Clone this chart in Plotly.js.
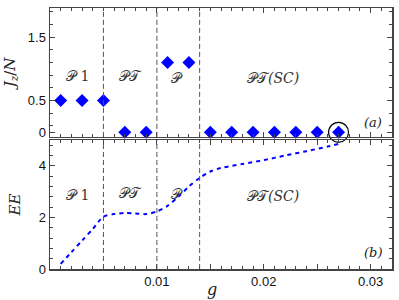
<!DOCTYPE html>
<html><head><meta charset="utf-8">
<script src="https://cdn.plot.ly/plotly-3.0.1.min.js"></script>
<style>html,body{margin:0;padding:0;background:#fff}#c{width:399px;height:300px}</style>
</head><body><div id="c"></div>
<script>
// Panel (a): J_z/N vs g
const gA = [0.001,0.003,0.005,0.007,0.009,0.011,0.013,0.015,0.017,0.019,0.021,0.023,0.025,0.027];
const jzN = [0.5,0.5,0.5,0,0,1.1,1.1,0,0,0,0,0,0,0];
// Panel (b): EE vs g
const gB = [0.001,0.002,0.003,0.004,0.005,0.006,0.007,0.008,0.009,0.010,0.011,0.012,0.013,0.014,0.015,0.016,0.018,0.020,0.022,0.024,0.026,0.027];
const ee = [0.2,0.65,1.1,1.55,2.03,2.13,2.17,2.15,2.13,2.23,2.45,2.8,3.2,3.53,3.78,3.92,4.07,4.22,4.4,4.57,4.75,4.85];
// phase boundaries
const bounds = [0.005,0.010,0.014];
// region labels
const phaseNames = ["𝒫 1","𝒫𝒯","𝒫","𝒫𝒯<i>(SC)</i>"];
const phaseX = [0.0026,0.0075,0.0119,0.0209];
const xTickVals = [0.005,0.01,0.015,0.02,0.025,0.03];
const xTickText = ["","0.01","","0.02","","0.03"];

const axisLine = '#444';
const tickFont = {family:'Liberation Sans, Arial, sans-serif', size:13, color:'#111'};
const serif = 'DejaVu Serif, Liberation Serif, serif';

const traces = [
  {x:gA, y:jzN, xaxis:'x', yaxis:'y', type:'scatter', mode:'markers', cliponaxis:false,
   marker:{symbol:'diamond', size:10, color:'#0000ff', line:{width:0}}},
  {x:[gA[gA.length-1]], y:[jzN[jzN.length-1]], xaxis:'x', yaxis:'y', type:'scatter', mode:'markers', cliponaxis:false,
   marker:{symbol:'circle-open', size:20, color:'#000', line:{width:1.2, color:'#000'}}},
  {x:gB, y:ee, xaxis:'x2', yaxis:'y2', type:'scatter', mode:'lines', cliponaxis:false,
   line:{color:'#0000ff', width:2, dash:'4px,4px', shape:'spline', smoothing:0.8}}
];

const common = {showline:true, linecolor:axisLine, linewidth:1.5, mirror:'ticks', ticks:'inside',
  tickcolor:axisLine, ticklen:5, tickwidth:1, showgrid:false, zeroline:false, tickfont:tickFont};

const xBase = Object.assign({}, common, {range:[0,0.032], tickvals:xTickVals, ticktext:xTickText,
  minor:{dtick:0.001, tick0:0, ticks:'inside', ticklen:3, tickcolor:axisLine, showgrid:false}});

const shapes = [];
bounds.forEach(b=>{
  ['y','y2'].forEach((ya,i)=>{
    shapes.push({type:'line', xref: i===0?'x':'x2', yref: ya+' domain', x0:b, x1:b, y0:0, y1:1,
      line:{color:'#555', width:1, dash:'5px,3px'}});
  });
});

const annotations = [];
const jzLab = [0.89,0.89,0.86,0.86];
const eeLab = [2.88,2.95,2.9,2.84];
phaseNames.forEach((t,i)=>{
  annotations.push({x:phaseX[i], y:jzLab[i], xref:'x', yref:'y', text:t, showarrow:false,
    font:{family:serif, size:14, color:'#333'}});
  annotations.push({x:phaseX[i], y:eeLab[i], xref:'x2', yref:'y2', text:t, showarrow:false,
    font:{family:serif, size:14, color:'#333'}});
});
annotations.push({x:0.0302, y:0.16, xref:'x', yref:'y', text:'<i>(a)</i>', showarrow:false,
  font:{family:serif, size:13, color:'#222'}});
annotations.push({x:0.0302, y:0.65, xref:'x2', yref:'y2', text:'<i>(b)</i>', showarrow:false,
  font:{family:serif, size:13, color:'#222'}});
annotations.push({x:0.474, y:-0.078, xref:'paper', yref:'paper', text:'<i>g</i>', showarrow:false,
  xanchor:'center', yanchor:'middle', font:{family:serif, size:16, color:'#222'}});

const layout = {
  width:399, height:300, margin:{l:50, r:7, t:8, b:31},
  paper_bgcolor:'#fff', plot_bgcolor:'#fff', showlegend:false,
  xaxis: Object.assign({}, xBase, {anchor:'y', showticklabels:false}),
  yaxis: Object.assign({}, common, {domain:[0.506,1], anchor:'x', range:[-0.073,1.96],
    tickvals:[0,0.5,1.5], ticktext:['0','0.5','1.5'],
    minor:{dtick:0.2, tick0:0.1, ticks:'inside', ticklen:3, tickcolor:axisLine, showgrid:false},
    title:{text:'<i>J<sub>z</sub></i>/<i>N</i>', font:{family:serif, size:15, color:'#222'}, standoff:8}}),
  xaxis2: Object.assign({}, xBase, {anchor:'y2'}),
  yaxis2: Object.assign({}, common, {domain:[0,0.494], anchor:'x2', range:[0,5],
    tickvals:[0,2,4],
    minor:{dtick:0.4, tick0:0, ticks:'inside', ticklen:3, tickcolor:axisLine, showgrid:false},
    title:{text:'<i>EE</i>', font:{family:serif, size:15, color:'#222'}, standoff:14}}),
  shapes: shapes,
  annotations: annotations
};
Plotly.newPlot('c', traces, layout, {displayModeBar:false, staticPlot:true});
</script></body></html>
